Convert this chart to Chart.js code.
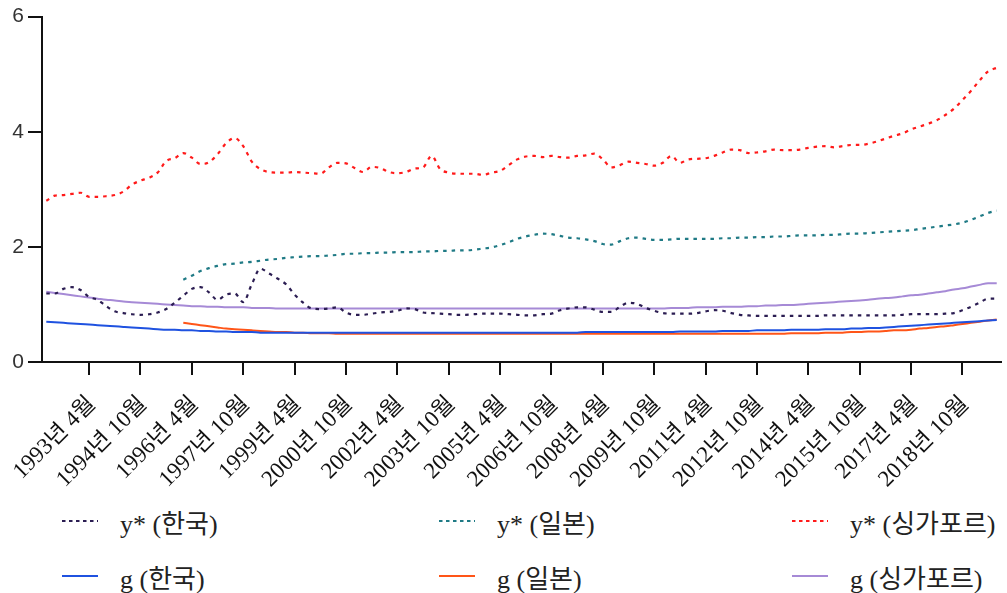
<!DOCTYPE html>
<html>
<head>
<meta charset="utf-8">
<script src="https://cdn.jsdelivr.net/npm/chart.js@4.4.1/dist/chart.umd.min.js"></script>
<style>
  body { margin: 0; background: #fff; }
  #wrap { position: relative; width: 1007px; height: 593px; overflow: hidden; }
  #legend .item {
    position: absolute; height: 30px; display: flex; align-items: center;
    font: 26px "Liberation Serif", "Noto Sans CJK KR", serif; color: #222; white-space: nowrap;
  }
  #legend svg { margin-right: 22px; }
</style>
</head>
<body>
<div id="wrap">
  <canvas id="chart" width="1007" height="490"></canvas>
  <div id="legend"></div>
</div>
<script>
// quarterly, Jan 1992 .. Oct 2019
const years = [];
for (let y = 1992; y <= 2019; y++) years.push(y);
const months = [1, 4, 7, 10];
const xLabels = [];
years.forEach(y => months.forEach(m => xLabels.push(y + "년 " + m + "월")));

const seriesNames = ["y* (한국)", "y* (일본)", "y* (싱가포르)", "g (한국)", "g (일본)", "g (싱가포르)"];
const yTicks = [0, 2, 4, 6];

const none16 = new Array(16).fill(null);

const yKorea = [
  1.19, 1.19, 1.27, 1.30, 1.25, 1.13, 1.08, 0.97, 0.88, 0.85,
  0.83, 0.82, 0.83, 0.86, 0.92, 1.03, 1.15, 1.27, 1.30, 1.21,
  1.08, 1.17, 1.19, 1.04, 1.35, 1.62, 1.54, 1.45, 1.35, 1.17,
  1.03, 0.93, 0.92, 0.93, 0.95, 0.86, 0.82, 0.82, 0.84, 0.86,
  0.87, 0.89, 0.93, 0.92, 0.86, 0.85, 0.84, 0.83, 0.82, 0.82,
  0.83, 0.84, 0.84, 0.84, 0.83, 0.82, 0.81, 0.81, 0.83, 0.84,
  0.90, 0.93, 0.95, 0.95, 0.91, 0.87, 0.87, 0.96, 1.03, 1.01,
  0.94, 0.89, 0.85, 0.84, 0.84, 0.84, 0.85, 0.88, 0.90, 0.89,
  0.85, 0.82, 0.81, 0.80, 0.80, 0.80, 0.80, 0.80, 0.80, 0.80,
  0.80, 0.81, 0.81, 0.81, 0.81, 0.81, 0.81, 0.81, 0.81, 0.81,
  0.82, 0.83, 0.83, 0.83, 0.83, 0.84, 0.85, 0.90, 0.96, 1.03,
  1.10, 1.10
];

const yJapan = none16.concat([
  1.43, 1.50, 1.58, 1.63, 1.67, 1.70, 1.71, 1.73, 1.74, 1.76,
  1.78, 1.79, 1.81, 1.82, 1.83, 1.84, 1.84, 1.85, 1.86, 1.88,
  1.88, 1.89, 1.89, 1.90, 1.90, 1.91, 1.91, 1.91, 1.92, 1.92,
  1.93, 1.93, 1.94, 1.94, 1.95, 1.97, 1.99, 2.03, 2.08, 2.14,
  2.18, 2.21, 2.23, 2.22, 2.19, 2.16, 2.15, 2.13, 2.10, 2.05,
  2.04, 2.10, 2.15, 2.16, 2.14, 2.12, 2.12, 2.13, 2.14, 2.14,
  2.14, 2.14, 2.14, 2.15, 2.15, 2.16, 2.16, 2.17, 2.17, 2.18,
  2.18, 2.19, 2.20, 2.20, 2.20, 2.21, 2.21, 2.22, 2.23, 2.23,
  2.24, 2.25, 2.26, 2.27, 2.28, 2.29, 2.31, 2.33, 2.35, 2.37,
  2.39, 2.42, 2.47, 2.53, 2.59, 2.63
]);

const ySingapore = [
  2.80, 2.89, 2.90, 2.92, 2.94, 2.87, 2.87, 2.88, 2.90, 2.96,
  3.08, 3.15, 3.20, 3.29, 3.49, 3.54, 3.63, 3.55, 3.44, 3.47,
  3.61, 3.80, 3.89, 3.75, 3.48, 3.35, 3.30, 3.29, 3.29, 3.30,
  3.29, 3.28, 3.27, 3.38, 3.46, 3.45, 3.37, 3.30, 3.39, 3.37,
  3.30, 3.28, 3.30, 3.36, 3.38, 3.58, 3.35, 3.29, 3.27, 3.27,
  3.27, 3.25, 3.29, 3.32, 3.42, 3.52, 3.57, 3.58, 3.56, 3.58,
  3.56, 3.55, 3.58, 3.59, 3.62, 3.52, 3.38, 3.42, 3.48, 3.46,
  3.44, 3.41, 3.46, 3.58, 3.46, 3.52, 3.53, 3.54, 3.58, 3.64,
  3.69, 3.68, 3.63, 3.64, 3.66, 3.69, 3.68, 3.68, 3.69, 3.72,
  3.74, 3.75, 3.73, 3.75, 3.77, 3.77, 3.79, 3.83, 3.88, 3.93,
  3.97, 4.04, 4.09, 4.14, 4.20, 4.29, 4.40, 4.55, 4.71, 4.89,
  5.05, 5.11
];

const gKorea = [
  0.70, 0.69, 0.68, 0.67, 0.66, 0.65, 0.64, 0.63, 0.62, 0.61,
  0.60, 0.59, 0.58, 0.57, 0.56, 0.56, 0.55, 0.55, 0.54, 0.54,
  0.53, 0.53, 0.52, 0.52, 0.52, 0.51, 0.51, 0.51, 0.51, 0.51,
  0.51, 0.51, 0.51, 0.51, 0.51, 0.51, 0.51, 0.51, 0.51, 0.51,
  0.51, 0.51, 0.51, 0.51, 0.51, 0.51, 0.51, 0.51, 0.51, 0.51,
  0.51, 0.51, 0.51, 0.51, 0.51, 0.51, 0.51, 0.51, 0.51, 0.51,
  0.51, 0.51, 0.51, 0.52, 0.52, 0.52, 0.52, 0.52, 0.52, 0.52,
  0.52, 0.52, 0.52, 0.52, 0.53, 0.53, 0.53, 0.53, 0.53, 0.54,
  0.54, 0.54, 0.54, 0.55, 0.55, 0.55, 0.55, 0.56, 0.56, 0.56,
  0.56, 0.57, 0.57, 0.57, 0.58, 0.58, 0.59, 0.59, 0.60, 0.61,
  0.62, 0.63, 0.64, 0.65, 0.66, 0.67, 0.68, 0.69, 0.70, 0.71,
  0.72, 0.73
];

const gJapan = none16.concat([
  0.68, 0.66, 0.64, 0.62, 0.60, 0.58, 0.57, 0.56, 0.55, 0.54,
  0.53, 0.52, 0.52, 0.51, 0.51, 0.50, 0.50, 0.50, 0.49, 0.49,
  0.49, 0.49, 0.49, 0.49, 0.49, 0.49, 0.49, 0.49, 0.49, 0.49,
  0.49, 0.49, 0.49, 0.49, 0.49, 0.49, 0.49, 0.49, 0.49, 0.49,
  0.49, 0.49, 0.49, 0.49, 0.49, 0.49, 0.49, 0.49, 0.49, 0.49,
  0.49, 0.49, 0.49, 0.49, 0.49, 0.49, 0.49, 0.49, 0.49, 0.49,
  0.49, 0.49, 0.49, 0.49, 0.49, 0.49, 0.49, 0.49, 0.49, 0.49,
  0.49, 0.50, 0.50, 0.50, 0.50, 0.51, 0.51, 0.51, 0.52, 0.52,
  0.53, 0.53, 0.54, 0.55, 0.55, 0.56, 0.58, 0.59, 0.61, 0.62,
  0.64, 0.66, 0.68, 0.70, 0.72, 0.74
]);

const gSingapore = [
  1.22, 1.20, 1.18, 1.16, 1.14, 1.12, 1.10, 1.08, 1.07, 1.05,
  1.04, 1.03, 1.02, 1.01, 1.00, 0.99, 0.98, 0.97, 0.97, 0.96,
  0.96, 0.95, 0.95, 0.95, 0.94, 0.94, 0.94, 0.93, 0.93, 0.93,
  0.93, 0.93, 0.93, 0.93, 0.93, 0.93, 0.93, 0.93, 0.93, 0.93,
  0.93, 0.93, 0.93, 0.93, 0.93, 0.93, 0.93, 0.93, 0.93, 0.93,
  0.93, 0.93, 0.93, 0.93, 0.93, 0.93, 0.93, 0.93, 0.93, 0.93,
  0.93, 0.93, 0.93, 0.93, 0.93, 0.93, 0.93, 0.93, 0.93, 0.93,
  0.93, 0.93, 0.93, 0.94, 0.94, 0.94, 0.95, 0.95, 0.95, 0.96,
  0.96, 0.96, 0.97, 0.97, 0.98, 0.98, 0.99, 0.99, 1.00, 1.01,
  1.02, 1.03, 1.04, 1.05, 1.06, 1.07, 1.08, 1.10, 1.11, 1.12,
  1.14, 1.16, 1.17, 1.19, 1.21, 1.23, 1.26, 1.28, 1.31, 1.34,
  1.37, 1.37
];

const colors = ["#2b1d52", "#1f7a85", "#ff1a1a", "#1f52e0", "#ff5518", "#a68ad6"];
const dashed = [true, true, true, false, false, false];
const values = [yKorea, yJapan, ySingapore, gKorea, gJapan, gSingapore];

const datasets = values.map((v, i) => ({
  label: seriesNames[i],
  data: v,
  borderColor: colors[i],
  backgroundColor: colors[i],
  borderWidth: dashed[i] ? 2.2 : 2,
  borderDash: dashed[i] ? [3.5, 5] : [],
  pointRadius: 0,
  fill: false,
  cubicInterpolationMode: "monotone",
}));

const axisColor = "#111";

new Chart("chart", {
  type: "line",
  data: { labels: xLabels, datasets: datasets },
  options: {
    responsive: false,
    animation: false,
    layout: { padding: { top: 15, right: 6, left: 0, bottom: 0 } },
    plugins: { legend: { display: false }, tooltip: { enabled: false } },
    scales: {
      x: {
        type: "category",
        offset: true,
        grid: {
          offset: false,
          drawOnChartArea: false,
          tickLength: 13,
          lineWidth: 2,
          color: (ctx) => (ctx.index % 6 === 5 ? axisColor : "rgba(0,0,0,0)"),
        },
        border: { color: axisColor, width: 2 },
        ticks: {
          autoSkip: false,
          maxRotation: 45,
          minRotation: 45,
          padding: 16,
          labelOffset: 3,
          color: "#111",
          font: { family: "'Liberation Serif', 'Noto Sans CJK KR'", size: 23 },
          callback: function (val, i) {
            return i % 6 === 5 ? xLabels[i] : "";
          },
        },
        afterFit: function (scale) {
          scale.height = 128;
          scale.paddingLeft = 0;
          scale.paddingRight = 0;
        },
      },
      y: {
        min: 0,
        max: 6,
        afterBuildTicks: function (scale) { scale.ticks = yTicks.map(v => ({ value: v })); },
        grid: { drawOnChartArea: false, tickLength: 14, lineWidth: 2, color: axisColor },
        border: { color: axisColor, width: 2 },
        ticks: {
          padding: 4,
          color: "#333",
          font: { family: "'Liberation Sans'", size: 21 },
        },
        afterFit: function (scale) { scale.width = 42; },
      },
    },
  },
});

// legend, 3 columns x 2 rows
const legendCols = [62, 439, 792];
const legendRows = [521, 576];
const legend = document.getElementById("legend");
datasets.forEach((ds, i) => {
  const item = document.createElement("div");
  item.className = "item";
  item.style.left = legendCols[i % 3] + "px";
  item.style.top = (legendRows[Math.floor(i / 3)] - 15) + "px";
  const dash = dashed[i] ? ' stroke-dasharray="3.5 3.5"' : "";
  item.innerHTML =
    '<svg width="36" height="6"><line x1="0" y1="3" x2="36" y2="3" stroke="' + ds.borderColor +
    '" stroke-width="2"' + dash + '/></svg><span>' + ds.label + "</span>";
  legend.appendChild(item);
});
</script>
</body>
</html>
